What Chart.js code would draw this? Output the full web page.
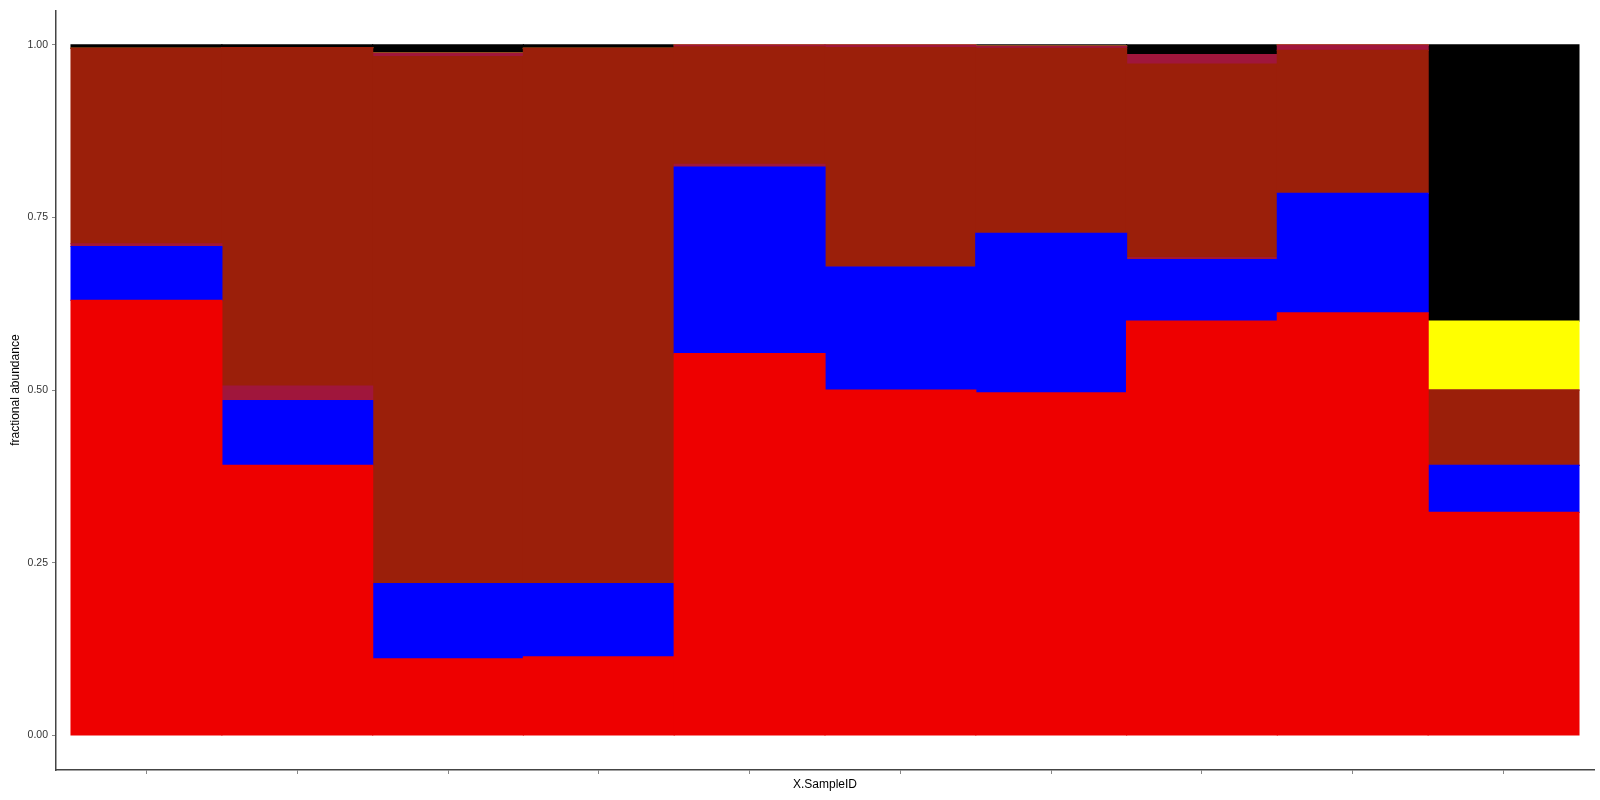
<!DOCTYPE html>
<html>
<head>
<meta charset="utf-8">
<script src="https://cdn.jsdelivr.net/npm/chart.js@4.4.1/dist/chart.umd.min.js"></script>
<style>
  html, body { margin: 0; padding: 0; background: #fff; }
  #wrap { width: 1600px; height: 800px; }
</style>
</head>
<body>
<div id="wrap"><canvas id="c" width="1600" height="800"></canvas></div>
<script>
// Samples (x tick labels are blank in the reference)
const samples = [1, 2, 3, 4, 5, 6, 7, 8, 9, 10];
const yTickValues = [0, 0.25, 0.5, 0.75, 1.0];

// Stacked fractional abundance per series (bottom to top)
const redVals     = [0.630, 0.391, 0.111, 0.114, 0.553, 0.500, 0.496, 0.600, 0.612, 0.323];
const blueVals    = [0.078, 0.094, 0.109, 0.106, 0.270, 0.178, 0.231, 0.089, 0.173, 0.068];
const crimsonLow  = [0.004, 0.021, 0.000, 0.000, 0.004, 0.000, 0.000, 0.003, 0.000, 0.000];
const brownVals   = [0.283, 0.490, 0.763, 0.775, 0.170, 0.318, 0.268, 0.280, 0.207, 0.109];
const crimsonHigh = [0.000, 0.000, 0.005, 0.000, 0.003, 0.004, 0.003, 0.014, 0.008, 0.000];
const yellowVals  = [0.000, 0.000, 0.000, 0.000, 0.000, 0.000, 0.000, 0.000, 0.000, 0.100];
const blackVals   = [0.005, 0.004, 0.012, 0.005, 0.000, 0.000, 0.002, 0.014, 0.000, 0.400];

function pts(arr) { return arr.map((v, i) => ({ x: samples[i], y: v })); }
function ds(label, arr, color) {
  return { label, data: pts(arr), backgroundColor: color, borderWidth: 0,
           barPercentage: 1.0, categoryPercentage: 1.0, inflateAmount: 0.6 };
}

const axisColor = '#444';
new Chart(document.getElementById('c'), {
  type: 'bar',
  data: {
    datasets: [
      ds('red', redVals, '#ee0000'),
      ds('blue', blueVals, '#0000ff'),
      ds('crimsonLow', crimsonLow, '#a0163c'),
      ds('brown', brownVals, '#9b1f0a'),
      ds('crimsonHigh', crimsonHigh, '#a0163c'),
      ds('yellow', yellowVals, '#ffff00'),
      ds('black', blackVals, '#000000')
    ]
  },
  options: {
    responsive: false,
    animation: false,
    layout: { padding: { top: 8, right: 6, left: 0, bottom: 0 } },
    plugins: { legend: { display: false }, tooltip: { enabled: false } },
    scales: {
      x: {
        type: 'linear', stacked: true, min: 0.4, max: 10.6, offset: false,
        afterBuildTicks: s => { s.ticks = samples.map(v => ({ value: v })); },
        afterFit: s => { s.height = 30; },
        ticks: { callback: () => '', font: { size: 11 } },
        grid: { display: true, offset: false, drawOnChartArea: false, drawTicks: true, tickLength: 4, color: '#888' },
        border: { display: true, color: axisColor, width: 1.5 },
        title: { display: true, text: 'X.SampleID', color: '#000',
                 font: { family: 'Liberation Sans, Arial, sans-serif', size: 12 },
                 padding: { top: 0, bottom: 8 } }
      },
      y: {
        stacked: true, min: -0.05, max: 1.05,
        afterBuildTicks: s => { s.ticks = yTickValues.map(v => ({ value: v })); },
        afterFit: s => { s.width = 56; },
        ticks: { callback: v => Number(v).toFixed(2), color: '#333', padding: 4,
                 font: { family: 'Liberation Sans, Arial, sans-serif', size: 10.5 } },
        grid: { display: true, drawOnChartArea: false, drawTicks: true, tickLength: 4, color: '#888' },
        border: { display: true, color: axisColor, width: 1.5 },
        title: { display: true, text: 'fractional abundance', color: '#000',
                 font: { family: 'Liberation Sans, Arial, sans-serif', size: 12 },
                 padding: { top: 8, bottom: 0 } }
      }
    }
  }
});
</script>
</body>
</html>
